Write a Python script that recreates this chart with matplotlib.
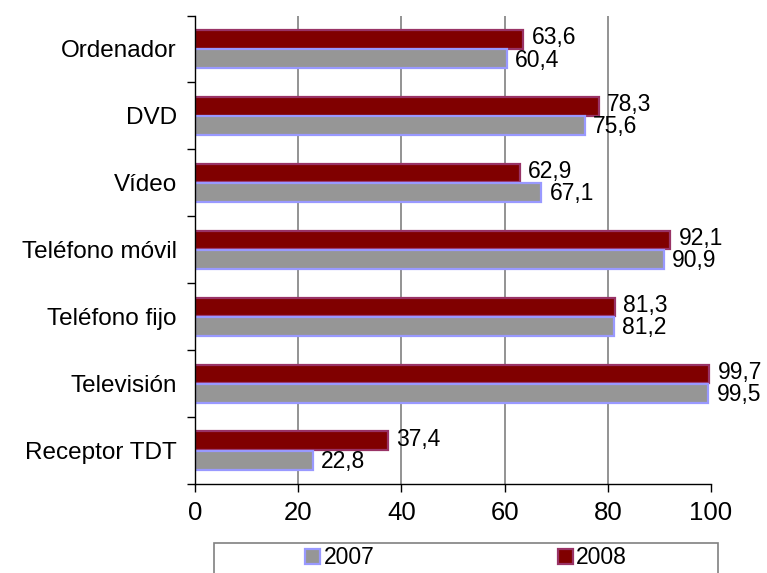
import matplotlib.pyplot as plt
from matplotlib.patches import Rectangle
import numpy as np

plt.rcParams['font.family'] = ['Liberation Sans', 'DejaVu Sans']

categories = ['Ordenador', 'DVD', 'Vídeo', 'Teléfono móvil', 'Teléfono fijo',
              'Televisión', 'Receptor TDT']
vals_2007 = [60.4, 75.6, 67.1, 90.9, 81.2, 99.5, 22.8]
vals_2008 = [63.6, 78.3, 62.9, 92.1, 81.3, 99.7, 37.4]
xticks = [0, 20, 40, 60, 80, 100]

fig = plt.figure(figsize=(7.67, 5.73), dpi=100)
ax = fig.add_axes([195 / 767, 1 - 484 / 573, 516 / 767, 468.5 / 573])

n = len(categories)
y = np.arange(n)[::-1]  # Ordenador arriba
h = 0.28
off = 0.145

b08 = ax.barh(y + off, vals_2008, height=h, color='#800000', edgecolor='#993366',
              linewidth=1.6, label='2008', zorder=3)
b07 = ax.barh(y - off, vals_2007, height=h, color='#969696', edgecolor='#9999FF',
              linewidth=1.6, label='2007', zorder=3)

for yy, v in zip(y, vals_2008):
    ax.text(v + 1.6, yy + off + 0.02, f'{v:.1f}'.replace('.', ','), ha='left',
            va='center', fontsize=16.5, zorder=4)
for yy, v in zip(y, vals_2007):
    ax.text(v + 1.6, yy - off - 0.02, f'{v:.1f}'.replace('.', ','), ha='left',
            va='center', fontsize=16.5, zorder=4)

ax.set_xlim(0, 100)
ax.set_ylim(-0.5, n - 0.5)
ax.set_xticks(xticks)
ax.set_xticklabels([str(t) for t in xticks], fontsize=18.5)
ax.set_yticks(y)
ax.set_yticklabels(categories, fontsize=17.5)
ax.set_yticks(np.arange(n + 1) - 0.5, minor=True)
ax.tick_params(axis='y', which='major', length=0, pad=13)
ax.tick_params(axis='y', which='minor', length=6, width=1, direction='out')
ax.tick_params(axis='x', length=6, width=1, direction='out', pad=6)

# lineas verticales de la rejilla (sin la de 100)
for t in xticks[1:-1]:
    ax.axvline(t, color='#808080', linewidth=1.2, zorder=0)

ax.spines['top'].set_visible(False)
ax.spines['right'].set_visible(False)
for s in ['left', 'bottom']:
    ax.spines[s].set_color('black')
    ax.spines[s].set_linewidth(1)
    ax.spines[s].set_zorder(5)

# marco de la leyenda
fig.patches.append(Rectangle((214 / 767, -0.02), 504 / 767, 0.02 + (573 - 543) / 573,
                             transform=fig.transFigure, facecolor='white',
                             edgecolor='#808080', linewidth=1.2))
fig.legend(handles=[b07, b08], labels=['2007', '2008'], loc='center',
           bbox_to_anchor=(466 / 767, 1 - 558 / 573), ncol=2, frameon=False,
           fontsize=16.5, handlelength=0.65, handleheight=0.65, handletextpad=0.15,
           columnspacing=8.0)

fig.savefig('out.png', dpi=100)
